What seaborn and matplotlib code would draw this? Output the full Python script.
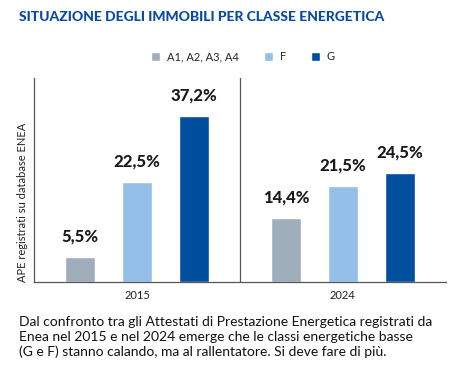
import pandas as pd
import matplotlib
matplotlib.use("Agg")
import matplotlib.pyplot as plt
import seaborn as sns
from matplotlib.patches import Patch

years = ["2015", "2024"]
classes = ["A1, A2, A3, A4", "F", "G"]
val_a = [5.5, 14.4]
val_f = [22.5, 21.5]
val_g = [37.2, 24.5]

df = pd.DataFrame({
    "anno": years * 3,
    "classe": [classes[0]] * 2 + [classes[1]] * 2 + [classes[2]] * 2,
    "valore": val_a + val_f + val_g,
})

palette = {classes[0]: "#9eaebb", classes[1]: "#93bfe8", classes[2]: "#004f9f"}

sns.set_theme(style="white")
plt.rcParams["font.family"] = ["Lato", "DejaVu Sans"]

fig = plt.figure(figsize=(4.5, 3.75), dpi=100)
ax = fig.add_axes([0.0756, 0.248, 0.915, 0.544])

sns.barplot(data=df, x="anno", y="valore", hue="classe", order=years,
            hue_order=classes, palette=palette, width=0.83, gap=0.47,
            saturation=1, legend=False, ax=ax)

# etichette sopra le barre
for cont in ax.containers:
    for bar in cont:
        h = bar.get_height()
        ax.annotate(f"{h:.1f}%".replace(".", ","),
                    (bar.get_x() + bar.get_width() / 2, h),
                    xytext=(0, 9), textcoords="offset points",
                    ha="center", va="bottom", fontsize=12, fontweight="black",
                    color="#1a1a1a")

ax.set_xlim(-0.5, 1.5)
ax.set_ylim(0, 45.7)
ax.axvline(0.5, color="#555555", lw=0.9)
ax.set_yticks([])
ax.set_xlabel("")
ax.set_ylabel("APE registrati su database ENEA", loc="bottom", fontsize=8,
              color="#222222", labelpad=4)
ax.tick_params(axis="x", length=0, labelsize=8, colors="#222222", pad=6)
sns.despine(ax=ax, top=True, right=True)
for side in ["left", "bottom"]:
    ax.spines[side].set_color("#555555")
    ax.spines[side].set_linewidth(0.9)

handles = [Patch(facecolor=palette[c], label=c) for c in classes]
fig.legend(handles=handles, loc="center", bbox_to_anchor=(0.54, 0.848), ncol=3,
           frameon=False, fontsize=8, handlelength=0.8, handleheight=0.8,
           handletextpad=0.6, columnspacing=2.3)

fig.text(0.042, 0.955, "SITUAZIONE DEGLI IMMOBILI PER CLASSE ENERGETICA",
         fontsize=10, fontweight="black", color="#0a4aa0", va="center")

fig.text(0.042, 0.158,
         "Dal confronto tra gli Attestati di Prestazione Energetica registrati da\n"
         "Enea nel 2015 e nel 2024 emerge che le classi energetiche basse\n"
         "(G e F) stanno calando, ma al rallentatore. Si deve fare di più.",
         fontsize=10, color="#111111", va="top", linespacing=1.3)

fig.savefig("out.png", dpi=100)
